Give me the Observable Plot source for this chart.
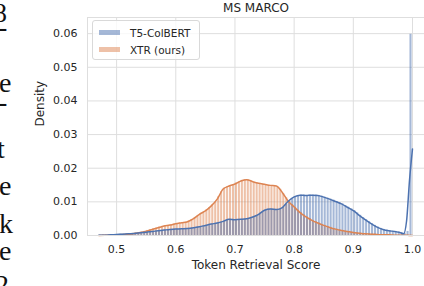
<!DOCTYPE html>
<html><head><meta charset="utf-8">
<script src="https://cdn.jsdelivr.net/npm/d3@7"></script>
<script src="https://cdn.jsdelivr.net/npm/@observablehq/plot@0.6"></script>
<style>
html,body{margin:0;padding:0;background:#fff;}
#wrap{position:relative;width:424px;height:286px;overflow:hidden;font-family:"DejaVu Sans",sans-serif;}
#wrap svg.main{position:absolute;left:0;top:0;}
#legend{position:absolute;left:92px;top:20px;width:106px;height:38px;background:rgba(255,255,255,0.8);border:1px solid #d9d9d9;border-radius:3px;font-size:10.5px;color:#262626;}
#legend .item{position:absolute;left:6px;height:17px;display:flex;align-items:center;white-space:nowrap;}
#legend .sw{width:21px;height:5px;margin-right:10px;}
#frag{position:absolute;left:0;top:0;}
</style></head><body>
<div id="wrap"></div>
<script>
const title = "MS MARCO";
const xLabel = "Token Retrieval Score";
const yLabel = "Density";
const seriesNames = ["T5-ColBERT", "XTR (ours)"];
const seriesColors = ["#4c72b0", "#dd8452"];
const binStart = 0.47, binWidth = 0.005;

const t5Bins = [
  0.0001, 0.0001, 0.0001, 0.0002, 0.0002, 0.0003,
  0.0003, 0.0004, 0.0004, 0.0005, 0.0005, 0.0006, 0.0007, 0.0007, 0.0008, 0.0009,
  0.0010, 0.0011, 0.0012, 0.0013, 0.0014, 0.0015, 0.0016, 0.0017, 0.0018, 0.0019,
  0.0019, 0.0020, 0.0020, 0.0021, 0.0021, 0.0022, 0.0023, 0.0025, 0.0026, 0.0028,
  0.0030, 0.0032, 0.0034, 0.0036, 0.0037, 0.0039, 0.0041, 0.0045, 0.0048, 0.0048,
  0.0047, 0.0047, 0.0048, 0.0049, 0.0050, 0.0052, 0.0055, 0.0059, 0.0063, 0.0069,
  0.0075, 0.0078, 0.0079, 0.0078, 0.0077, 0.0079, 0.0083, 0.0092, 0.0102, 0.0109,
  0.0115, 0.0118, 0.0120, 0.0120, 0.0119, 0.0120, 0.0120, 0.0120, 0.0119, 0.0117,
  0.0114, 0.0111, 0.0108, 0.0105, 0.0101, 0.0098, 0.0094, 0.0089, 0.0084, 0.0079,
  0.0074, 0.0067, 0.0060, 0.0053, 0.0047, 0.0041, 0.0035, 0.0030, 0.0025, 0.0021,
  0.0018, 0.0016, 0.0014, 0.0013, 0.0012, 0.0011, 0.0009, 0.0007, 0.0012, 0.0598
];
const xtrBins = [
  0.0000, 0.0001, 0.0001, 0.0001, 0.0001, 0.0002,
  0.0002, 0.0003, 0.0003, 0.0004, 0.0004, 0.0005, 0.0007, 0.0008, 0.0010, 0.0012,
  0.0015, 0.0017, 0.0020, 0.0022, 0.0025, 0.0027, 0.0029, 0.0030, 0.0032, 0.0034,
  0.0036, 0.0037, 0.0039, 0.0040, 0.0043, 0.0047, 0.0052, 0.0058, 0.0065, 0.0069,
  0.0076, 0.0083, 0.0091, 0.0099, 0.0115, 0.0130, 0.0141, 0.0145, 0.0148, 0.0151,
  0.0156, 0.0160, 0.0164, 0.0166, 0.0165, 0.0161, 0.0158, 0.0156, 0.0154, 0.0153,
  0.0151, 0.0149, 0.0148, 0.0148, 0.0145, 0.0137, 0.0124, 0.0112, 0.0101, 0.0092,
  0.0082, 0.0075, 0.0068, 0.0061, 0.0055, 0.0050, 0.0045, 0.0041, 0.0037, 0.0033,
  0.0030, 0.0027, 0.0024, 0.0021, 0.0019, 0.0017, 0.0015, 0.0013, 0.0012, 0.0010,
  0.0009, 0.0008, 0.0007, 0.0006, 0.0005, 0.0005, 0.0004, 0.0004, 0.0003, 0.0003,
  0.0002, 0.0002, 0.0002, 0.0001, 0.0001, 0.0001, 0.0001, 0.0001, 0.0001, 0.0001
];

const kdeX = [
  0.47, 0.48, 0.49, 0.50, 0.51, 0.52, 0.53, 0.54, 0.55, 0.56,
  0.57, 0.58, 0.59, 0.60, 0.61, 0.62, 0.63, 0.64, 0.65, 0.66,
  0.67, 0.68, 0.69, 0.70, 0.71, 0.72, 0.73, 0.74, 0.75, 0.76,
  0.77, 0.78, 0.79, 0.80, 0.81, 0.82, 0.83, 0.84, 0.85, 0.86,
  0.87, 0.88, 0.89, 0.90, 0.91, 0.92, 0.93, 0.94, 0.95, 0.96,
  0.97, 0.98, 0.985, 0.99, 0.995, 1.0
];
const t5Kde = [
  0.0001, 0.0001, 0.0002, 0.0003, 0.0004, 0.0005, 0.0006, 0.0008, 0.0010, 0.0012,
  0.0014, 0.0016, 0.0018, 0.0019, 0.0020, 0.0021, 0.0023, 0.0026, 0.0030, 0.0034,
  0.0037, 0.0042, 0.0048, 0.0047, 0.0048, 0.0050, 0.0055, 0.0063, 0.0075, 0.0079,
  0.0077, 0.0083, 0.0102, 0.0115, 0.0120, 0.0119, 0.0120, 0.0119, 0.0114, 0.0108,
  0.0101, 0.0094, 0.0084, 0.0074, 0.0060, 0.0047, 0.0035, 0.0025, 0.0018, 0.0014,
  0.0012, 0.0008, 0.0005, 0.0043, 0.0165, 0.0257
];
const xtrKde = [
  0.0000, 0.0001, 0.0001, 0.0002, 0.0003, 0.0004, 0.0006, 0.0009, 0.0013, 0.0018,
  0.0023, 0.0028, 0.0031, 0.0035, 0.0038, 0.0041, 0.0050, 0.0063, 0.0073, 0.0088,
  0.0108, 0.0138, 0.0147, 0.0153, 0.0162, 0.0166, 0.0160, 0.0155, 0.0152, 0.0149,
  0.0147, 0.0128, 0.0102, 0.0085, 0.0068, 0.0055, 0.0045, 0.0037, 0.0030, 0.0024,
  0.0019, 0.0015, 0.0012, 0.0009, 0.0007, 0.0005, 0.0004, 0.0003, 0.0002, 0.0002,
  0.0001, 0.0001, 0.0001, 0.0001, 0.0000, 0.0000
];

const xTicks = [0.5, 0.6, 0.7, 0.8, 0.9, 1.0];
const yTicks = [0.00, 0.01, 0.02, 0.03, 0.04, 0.05, 0.06];

// Cropped page text visible at the left edge of the reference
const marginChars = ["8", "-", "e", "-", "t", "e", "k", "e", "2"];

function binRows(vals, s) {
  return vals.map((v, i) => ({series: s, x1: binStart + i * binWidth, x2: binStart + (i + 1) * binWidth, y: v}));
}
function kdeRows(vals, s) {
  return vals.map((v, i) => ({series: s, x: kdeX[i], y: v}));
}
const t5BarRows = binRows(t5Bins, seriesNames[0]);
const xtrBarRows = binRows(xtrBins, seriesNames[1]);
const t5LineRows = kdeRows(t5Kde, seriesNames[0]);
const xtrLineRows = kdeRows(xtrKde, seriesNames[1]);

const gridColor = "#dedede";
const chart = Plot.plot({
  width: 424, height: 286,
  marginLeft: 87, marginRight: 0, marginTop: 17, marginBottom: 51,
  x: {domain: [0.4508, 1.0203]},
  y: {domain: [0, 0.0648]},
  style: {fontFamily: "DejaVu Sans, sans-serif", color: "#262626", background: "transparent", overflow: "visible"},
  marks: [
    Plot.gridX(xTicks, {stroke: gridColor, strokeOpacity: 1, strokeWidth: 1}),
    Plot.gridY(yTicks, {stroke: gridColor, strokeOpacity: 1, strokeWidth: 1}),
    Plot.rectY(xtrBarRows, {x1: "x1", x2: "x2", y: "y", fill: seriesColors[1], fillOpacity: 0.5, insetLeft: 0.45, insetRight: 0.45}),
    Plot.rectY(t5BarRows, {x1: "x1", x2: "x2", y: "y", fill: seriesColors[0], fillOpacity: 0.5, insetLeft: 0.45, insetRight: 0.45}),
    Plot.line(xtrLineRows, {x: "x", y: "y", stroke: seriesColors[1], strokeWidth: 1.5, curve: "monotone-x"}),
    Plot.line(t5LineRows, {x: "x", y: "y", stroke: seriesColors[0], strokeWidth: 1.5, curve: "monotone-x"}),
    Plot.frame({stroke: gridColor}),
    Plot.axisX(xTicks, {tickFormat: d3.format(".1f"), tickSize: 0, tickPadding: 10, fontSize: 11, label: null}),
    Plot.axisY(yTicks, {tickFormat: d3.format(".2f"), tickSize: 0, tickPadding: 10, fontSize: 11, label: null}),
    Plot.text([title], {text: d => d, frameAnchor: "top", dy: -9, fontSize: 12, lineAnchor: "middle"}),
    Plot.text([xLabel], {text: d => d, frameAnchor: "bottom", dy: 30, fontSize: 12, lineAnchor: "middle"}),
    Plot.text([yLabel], {text: d => d, frameAnchor: "left", dx: -47, rotate: -90, fontSize: 12, lineAnchor: "middle"})
  ]
});
chart.classList.add("main");
const wrap = document.getElementById("wrap");
wrap.appendChild(chart);

// legend
const legend = document.createElement("div");
legend.id = "legend";
seriesNames.forEach((name, i) => {
  const item = document.createElement("div");
  item.className = "item";
  item.style.top = (3 + i * 17) + "px";
  const sw = document.createElement("span");
  sw.className = "sw";
  const c = d3.color(seriesColors[i]); c.opacity = 0.5;
  sw.style.background = c.formatRgb();
  const tx = document.createElement("span");
  tx.textContent = name;
  item.appendChild(sw); item.appendChild(tx);
  legend.appendChild(item);
});
wrap.appendChild(legend);

// cropped page text fragments
const fragPos = [[-7, 22], [-2, 36], [-1, 92], [-2, 111], [-3, 158], [-1, 195], [-1, 233], [-1, 260], [-5, 294]];
const ns = "http://www.w3.org/2000/svg";
const frag = document.createElementNS(ns, "svg");
frag.setAttribute("id", "frag");
frag.setAttribute("width", 30); frag.setAttribute("height", 286);
marginChars.forEach((ch, i) => {
  const t = document.createElementNS(ns, "text");
  t.setAttribute("x", fragPos[i][0]); t.setAttribute("y", fragPos[i][1]);
  t.setAttribute("font-family", "Liberation Serif, serif");
  t.setAttribute("font-size", 28);
  t.setAttribute("fill", "#111");
  t.textContent = ch;
  frag.appendChild(t);
});
wrap.appendChild(frag);
</script>
</body></html>
